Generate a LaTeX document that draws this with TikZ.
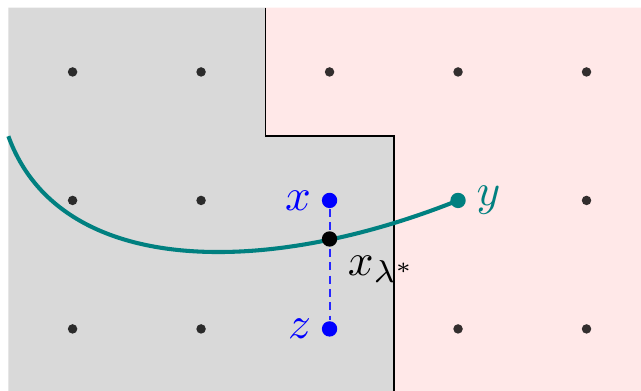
\documentclass[tikz,border=0pt]{standalone}
\usepackage{tikz}
\usetikzlibrary{positioning}

\begin{document}
\begin{tikzpicture}[
        gridDot/.style={circle, fill=black, opacity=0.8, inner sep=0pt, minimum size=2.1pt},
        bigDot/.style={circle, inner sep=0pt, minimum size=3.4pt},
        boundaryLine/.style={black, line width=0.35pt},
        pathLine/.style={teal, line width=0.9pt},
        segLine/.style={blue!85, line width=0.45pt, dash pattern=on 1.8pt off 1.15pt},
        ptLabel/.style={inner sep=0pt}
    ]
        \useasboundingbox (-0.565,0.56) rectangle (4.424,-2.482);

        % the two regions
        \fill[black!15] (-0.5,0.5) -- (1.5,0.5) -- (1.5,-0.5) -- (2.5,-0.5) -- (2.5,-2.5) -- (-0.5,-2.5) -- cycle;
        \fill[red!9] (1.5,0.5) -- (4.5,0.5) -- (4.5,-2.5) -- (2.5,-2.5) -- (2.5,-0.5) -- (1.5,-0.5) -- cycle;
        \draw[boundaryLine] (1.5,0.5) -- (1.5,-0.5) -- (2.5,-0.5) -- (2.5,-2.5);

        % lattice points
        \foreach \i/\j in {0/0, 1/0, 2/0, 3/0, 4/0, 0/1, 1/1, 4/1, 0/2, 1/2, 3/2, 4/2}
            \node[gridDot] (grid-\i-\j) at (\i,-\j) {};

        \node[bigDot, fill=blue] (ptX) at (2,-1) {};
        \node[bigDot, fill=blue] (ptZ) at (2,-2) {};
        \node[bigDot, fill=teal] (ptY) at (3,-1) {};
        \coordinate (pathStart) at (-0.5,-0.5);

        \draw[segLine] (ptX) -- (ptZ);
        \draw[pathLine] (pathStart) .. controls (-0.1,-1.6) and (1.5,-1.6) .. (ptY.center);

        \node[bigDot, fill=black] (ptMid) at (2,-1.3) {};

        \node[ptLabel, blue, left=2pt of ptX] (labX) {$x$};
        \node[ptLabel, blue, left=2pt of ptZ] (labZ) {$z$};
        \node[ptLabel, teal, right=2pt of ptY] (labY) {$y$};
        \node[ptLabel, below right=2.3pt and 2.5pt of ptMid] (labMid) {$x_{\lambda^*}$};
    \end{tikzpicture}
\end{document}
